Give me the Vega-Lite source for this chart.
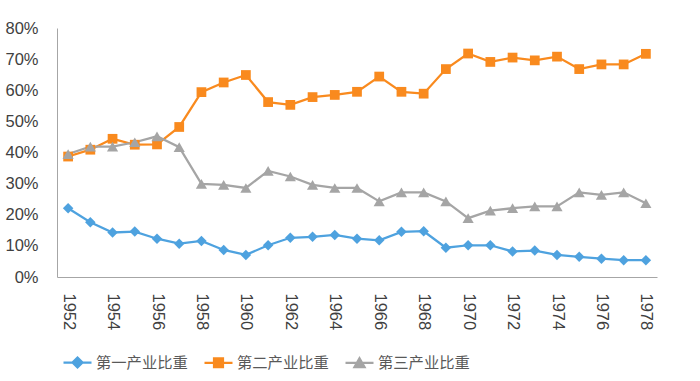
{
  "$schema": "https://vega.github.io/schema/vega-lite/v6.json",
  "width": 600,
  "height": 249,
  "autosize": {"type": "none"},
  "padding": {"left": 57, "top": 28, "right": 43, "bottom": 104},
  "background": "white",
  "config": {"view": {"stroke": null}},
  "datasets": {
    "d": [
      {"year": 1952, "series": "第一产业比重", "value": 22.1},
      {"year": 1953, "series": "第一产业比重", "value": 17.6},
      {"year": 1954, "series": "第一产业比重", "value": 14.3},
      {"year": 1955, "series": "第一产业比重", "value": 14.6},
      {"year": 1956, "series": "第一产业比重", "value": 12.3},
      {"year": 1957, "series": "第一产业比重", "value": 10.7},
      {"year": 1958, "series": "第一产业比重", "value": 11.6},
      {"year": 1959, "series": "第一产业比重", "value": 8.7},
      {"year": 1960, "series": "第一产业比重", "value": 7.1},
      {"year": 1961, "series": "第一产业比重", "value": 10.2},
      {"year": 1962, "series": "第一产业比重", "value": 12.6},
      {"year": 1963, "series": "第一产业比重", "value": 12.9},
      {"year": 1964, "series": "第一产业比重", "value": 13.5},
      {"year": 1965, "series": "第一产业比重", "value": 12.3},
      {"year": 1966, "series": "第一产业比重", "value": 11.8},
      {"year": 1967, "series": "第一产业比重", "value": 14.5},
      {"year": 1968, "series": "第一产业比重", "value": 14.7},
      {"year": 1969, "series": "第一产业比重", "value": 9.4},
      {"year": 1970, "series": "第一产业比重", "value": 10.2},
      {"year": 1971, "series": "第一产业比重", "value": 10.2},
      {"year": 1972, "series": "第一产业比重", "value": 8.2},
      {"year": 1973, "series": "第一产业比重", "value": 8.5},
      {"year": 1974, "series": "第一产业比重", "value": 7.1},
      {"year": 1975, "series": "第一产业比重", "value": 6.5},
      {"year": 1976, "series": "第一产业比重", "value": 5.9},
      {"year": 1977, "series": "第一产业比重", "value": 5.4},
      {"year": 1978, "series": "第一产业比重", "value": 5.4},
      {"year": 1952, "series": "第二产业比重", "value": 38.7},
      {"year": 1953, "series": "第二产业比重", "value": 40.9},
      {"year": 1954, "series": "第二产业比重", "value": 44.4},
      {"year": 1955, "series": "第二产业比重", "value": 42.5},
      {"year": 1956, "series": "第二产业比重", "value": 42.6},
      {"year": 1957, "series": "第二产业比重", "value": 48.2},
      {"year": 1958, "series": "第二产业比重", "value": 59.4},
      {"year": 1959, "series": "第二产业比重", "value": 62.5},
      {"year": 1960, "series": "第二产业比重", "value": 64.9},
      {"year": 1961, "series": "第二产业比重", "value": 56.2},
      {"year": 1962, "series": "第二产业比重", "value": 55.3},
      {"year": 1963, "series": "第二产业比重", "value": 57.8},
      {"year": 1964, "series": "第二产业比重", "value": 58.5},
      {"year": 1965, "series": "第二产业比重", "value": 59.5},
      {"year": 1966, "series": "第二产业比重", "value": 64.4},
      {"year": 1967, "series": "第二产业比重", "value": 59.5},
      {"year": 1968, "series": "第二产业比重", "value": 58.9},
      {"year": 1969, "series": "第二产业比重", "value": 66.8},
      {"year": 1970, "series": "第二产业比重", "value": 71.8},
      {"year": 1971, "series": "第二产业比重", "value": 69.1},
      {"year": 1972, "series": "第二产业比重", "value": 70.5},
      {"year": 1973, "series": "第二产业比重", "value": 69.6},
      {"year": 1974, "series": "第二产业比重", "value": 70.8},
      {"year": 1975, "series": "第二产业比重", "value": 66.8},
      {"year": 1976, "series": "第二产业比重", "value": 68.3},
      {"year": 1977, "series": "第二产业比重", "value": 68.3},
      {"year": 1978, "series": "第二产业比重", "value": 71.7},
      {"year": 1952, "series": "第三产业比重", "value": 39.5},
      {"year": 1953, "series": "第三产业比重", "value": 41.9},
      {"year": 1954, "series": "第三产业比重", "value": 41.9},
      {"year": 1955, "series": "第三产业比重", "value": 43.3},
      {"year": 1956, "series": "第三产业比重", "value": 45.2},
      {"year": 1957, "series": "第三产业比重", "value": 41.7},
      {"year": 1958, "series": "第三产业比重", "value": 29.9},
      {"year": 1959, "series": "第三产业比重", "value": 29.6},
      {"year": 1960, "series": "第三产业比重", "value": 28.6},
      {"year": 1961, "series": "第三产业比重", "value": 34.1},
      {"year": 1962, "series": "第三产业比重", "value": 32.3},
      {"year": 1963, "series": "第三产业比重", "value": 29.6},
      {"year": 1964, "series": "第三产业比重", "value": 28.6},
      {"year": 1965, "series": "第三产业比重", "value": 28.6},
      {"year": 1966, "series": "第三产业比重", "value": 24.3},
      {"year": 1967, "series": "第三产业比重", "value": 27.2},
      {"year": 1968, "series": "第三产业比重", "value": 27.2},
      {"year": 1969, "series": "第三产业比重", "value": 24.3},
      {"year": 1970, "series": "第三产业比重", "value": 18.9},
      {"year": 1971, "series": "第三产业比重", "value": 21.3},
      {"year": 1972, "series": "第三产业比重", "value": 22.1},
      {"year": 1973, "series": "第三产业比重", "value": 22.7},
      {"year": 1974, "series": "第三产业比重", "value": 22.7},
      {"year": 1975, "series": "第三产业比重", "value": 27.2},
      {"year": 1976, "series": "第三产业比重", "value": 26.4},
      {"year": 1977, "series": "第三产业比重", "value": 27.2},
      {"year": 1978, "series": "第三产业比重", "value": 23.7}
    ]
  },
  "data": {"name": "d"},
  "encoding": {
    "x": {
      "field": "year",
      "type": "quantitative",
      "scale": {"domain": [1951.5, 1978.5], "nice": false, "zero": false},
      "axis": {
        "title": null,
        "values": [1952, 1954, 1956, 1958, 1960, 1962, 1964, 1966, 1968, 1970, 1972, 1974, 1976, 1978],
        "format": "d",
        "labelAngle": 90,
        "labelPadding": 16,
        "ticks": false,
        "tickSize": 0,
        "grid": false,
        "domainColor": "#A6A6A6",
        "domainWidth": 1,
        "labelFont": "Liberation Sans",
        "labelFontSize": 16.5,
        "labelColor": "#404040"
      }
    },
    "y": {
      "field": "value",
      "type": "quantitative",
      "scale": {"domain": [0, 80], "nice": false},
      "axis": {
        "title": null,
        "values": [0, 10, 20, 30, 40, 50, 60, 70, 80],
        "labelExpr": "datum.value + '%'",
        "ticks": false,
        "tickSize": 0,
        "grid": false,
        "labelPadding": 19,
        "domainColor": "#A6A6A6",
        "domainWidth": 1,
        "labelFont": "Liberation Sans",
        "labelFontSize": 16.5,
        "labelColor": "#404040"
      }
    },
    "color": {
      "field": "series",
      "type": "nominal",
      "scale": {
        "domain": ["第一产业比重", "第二产业比重", "第三产业比重"],
        "range": ["#4EA2DF", "#F98A1E", "#A5A5A5"]
      },
      "legend": {
        "title": null,
        "orient": "none",
        "direction": "horizontal",
        "columns": 3,
        "legendX": 5,
        "legendY": 319,
        "padding": 0,
        "columnPadding": 12,
        "symbolSize": 784,
        "symbolStrokeWidth": 2.25,
        "labelOffset": 3,
        "labelFont": "Noto Sans CJK SC",
        "labelFontSize": 15.3,
        "labelColor": "#595959",
        "encode": {
          "symbols": {
            "update": {
              "shape": {"signal": "datum.value == '第一产业比重' ? 'M-1,0H1M0,-0.357L0.357,0L0,0.357L-0.357,0Z' : datum.value == '第二产业比重' ? 'M-1,0H1M-0.32,-0.32H0.32V0.32H-0.32Z' : 'M-1,0H1M0,-0.33L0.36,0.3H-0.36Z'"},
              "size": {"value": 784},
              "fill": {"signal": "scale('color', datum.value)"},
              "stroke": {"signal": "scale('color', datum.value)"},
              "strokeWidth": {"value": 2.25},
              "opacity": {"value": 1},
              "fillOpacity": {"value": 1},
              "strokeOpacity": {"value": 1}
            }
          }
        }
      }
    }
  },
  "layer": [
    {
      "mark": {"type": "line", "strokeWidth": 2.25},
      "encoding": {"detail": {"field": "series"}}
    },
    {
      "transform": [{"filter": "datum.series == '第一产业比重'"}],
      "mark": {"type": "point", "filled": true, "opacity": 1, "shape": "diamond", "size": 110}
    },
    {
      "transform": [{"filter": "datum.series == '第二产业比重'"}],
      "mark": {"type": "point", "filled": true, "opacity": 1, "shape": "square", "size": 95}
    },
    {
      "transform": [{"filter": "datum.series == '第三产业比重'"}],
      "mark": {"type": "point", "filled": true, "opacity": 1, "shape": "triangle-up", "size": 125}
    }
  ]
}
